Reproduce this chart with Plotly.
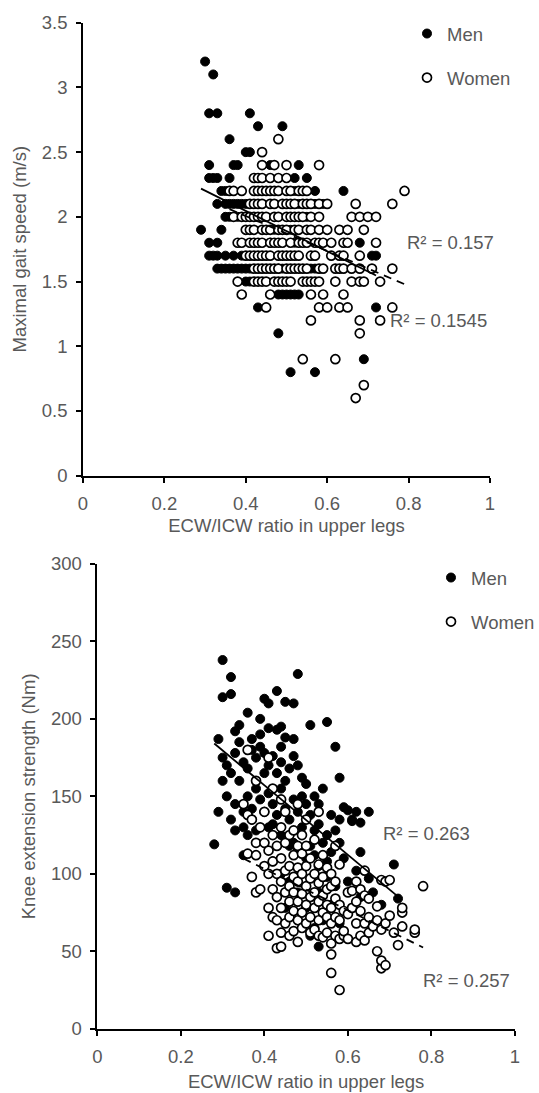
import plotly.graph_objects as go

FONT = "Liberation Sans, Arial, sans-serif"
GREY = "#595959"
FS = 18.5

# ---------------- Top chart: maximal gait speed ----------------
men_speed_pts = [
    (0.30, 3.2), (0.32, 3.1), (0.31, 2.8), (0.33, 2.8), (0.41, 2.8), (0.43, 2.7), (0.49, 2.7),
    (0.36, 2.6), (0.40, 2.5), (0.41, 2.5),
    (0.31, 2.4), (0.37, 2.4), (0.38, 2.4), (0.46, 2.4), (0.53, 2.4),
    (0.31, 2.3), (0.32, 2.3), (0.33, 2.3), (0.36, 2.3), (0.52, 2.3), (0.55, 2.3),
    (0.34, 2.2), (0.35, 2.2), (0.52, 2.2), (0.57, 2.2), (0.64, 2.2),
    (0.33, 2.1), (0.35, 2.1), (0.36, 2.1), (0.37, 2.1), (0.38, 2.1), (0.39, 2.1), (0.40, 2.1),
    (0.53, 2.1), (0.57, 2.1), (0.59, 2.1),
    (0.35, 2.0), (0.36, 2.0), (0.38, 2.0), (0.55, 2.0),
    (0.29, 1.9), (0.34, 1.9), (0.47, 1.9), (0.51, 1.9),
    (0.31, 1.8), (0.33, 1.8), (0.46, 1.8), (0.52, 1.8), (0.68, 1.8),
    (0.31, 1.7), (0.32, 1.7), (0.33, 1.7), (0.35, 1.7), (0.37, 1.7), (0.39, 1.7), (0.71, 1.7), (0.72, 1.7),
    (0.33, 1.6), (0.34, 1.6), (0.35, 1.6), (0.36, 1.6), (0.37, 1.6), (0.38, 1.6), (0.39, 1.6),
    (0.40, 1.6), (0.41, 1.6), (0.48, 1.6), (0.49, 1.6), (0.56, 1.6), (0.57, 1.6),
    (0.40, 1.5), (0.41, 1.5),
    (0.48, 1.4), (0.49, 1.4), (0.50, 1.4), (0.51, 1.4), (0.52, 1.4), (0.53, 1.4),
    (0.43, 1.3), (0.72, 1.3), (0.48, 1.1), (0.69, 0.9), (0.51, 0.8), (0.57, 0.8),
]

women_speed_pts = [
    (0.48, 2.6), (0.44, 2.5),
    (0.44, 2.4), (0.47, 2.4), (0.50, 2.4), (0.58, 2.4),
    (0.42, 2.3), (0.43, 2.3), (0.44, 2.3), (0.46, 2.3), (0.48, 2.3), (0.50, 2.3),
    (0.36, 2.2), (0.37, 2.2), (0.39, 2.2), (0.42, 2.2), (0.43, 2.2), (0.44, 2.2), (0.45, 2.2),
    (0.46, 2.2), (0.47, 2.2), (0.48, 2.2), (0.50, 2.2), (0.51, 2.2), (0.53, 2.2), (0.54, 2.2),
    (0.55, 2.2), (0.79, 2.2),
    (0.41, 2.1), (0.42, 2.1), (0.43, 2.1), (0.44, 2.1), (0.46, 2.1), (0.47, 2.1), (0.49, 2.1),
    (0.50, 2.1), (0.51, 2.1), (0.52, 2.1), (0.54, 2.1), (0.55, 2.1), (0.56, 2.1), (0.58, 2.1),
    (0.60, 2.1), (0.67, 2.1), (0.76, 2.1),
    (0.37, 2.0), (0.39, 2.0), (0.40, 2.0), (0.41, 2.0), (0.42, 2.0), (0.43, 2.0), (0.44, 2.0),
    (0.45, 2.0), (0.47, 2.0), (0.48, 2.0), (0.50, 2.0), (0.51, 2.0), (0.52, 2.0), (0.53, 2.0),
    (0.54, 2.0), (0.56, 2.0), (0.58, 2.0), (0.66, 2.0), (0.68, 2.0), (0.70, 2.0), (0.72, 2.0),
    (0.40, 1.9), (0.41, 1.9), (0.42, 1.9), (0.44, 1.9), (0.45, 1.9), (0.46, 1.9), (0.48, 1.9),
    (0.49, 1.9), (0.50, 1.9), (0.52, 1.9), (0.53, 1.9), (0.55, 1.9), (0.56, 1.9), (0.58, 1.9),
    (0.60, 1.9), (0.63, 1.9), (0.65, 1.9), (0.69, 1.9),
    (0.38, 1.8), (0.39, 1.8), (0.41, 1.8), (0.42, 1.8), (0.43, 1.8), (0.44, 1.8), (0.46, 1.8),
    (0.47, 1.8), (0.48, 1.8), (0.49, 1.8), (0.51, 1.8), (0.53, 1.8), (0.54, 1.8), (0.55, 1.8),
    (0.57, 1.8), (0.58, 1.8), (0.59, 1.8), (0.61, 1.8), (0.64, 1.8), (0.65, 1.8), (0.72, 1.8),
    (0.40, 1.7), (0.41, 1.7), (0.42, 1.7), (0.43, 1.7), (0.44, 1.7), (0.45, 1.7), (0.46, 1.7),
    (0.48, 1.7), (0.49, 1.7), (0.50, 1.7), (0.51, 1.7), (0.52, 1.7), (0.53, 1.7), (0.56, 1.7),
    (0.57, 1.7), (0.61, 1.7), (0.63, 1.7), (0.64, 1.7), (0.68, 1.7),
    (0.42, 1.6), (0.43, 1.6), (0.44, 1.6), (0.45, 1.6), (0.46, 1.6), (0.47, 1.6), (0.48, 1.6),
    (0.50, 1.6), (0.51, 1.6), (0.52, 1.6), (0.53, 1.6), (0.54, 1.6), (0.55, 1.6), (0.58, 1.6),
    (0.59, 1.6), (0.62, 1.6), (0.63, 1.6), (0.64, 1.6), (0.66, 1.6), (0.68, 1.6), (0.71, 1.6),
    (0.76, 1.6),
    (0.38, 1.5), (0.42, 1.5), (0.43, 1.5), (0.44, 1.5), (0.45, 1.5), (0.47, 1.5), (0.48, 1.5),
    (0.49, 1.5), (0.50, 1.5), (0.51, 1.5), (0.54, 1.5), (0.55, 1.5), (0.56, 1.5), (0.57, 1.5),
    (0.58, 1.5), (0.62, 1.5), (0.66, 1.5), (0.68, 1.5), (0.69, 1.5), (0.73, 1.5),
    (0.39, 1.4), (0.46, 1.4), (0.56, 1.4), (0.59, 1.4), (0.64, 1.4),
    (0.45, 1.3), (0.58, 1.3), (0.60, 1.3), (0.63, 1.3), (0.65, 1.3), (0.76, 1.3),
    (0.56, 1.2), (0.68, 1.2), (0.73, 1.2), (0.68, 1.1),
    (0.54, 0.9), (0.62, 0.9), (0.69, 0.7), (0.67, 0.6),
]

# trendline coefficients: [intercept, slope]
men_speed_fit = [2.67, -1.56]
women_speed_fit = [2.546, -1.35]
speed_r2_text = ["R² = 0.157", "R² = 0.1545"]
speed_r2_pos = [(0.79, 1.80), (0.75, 1.20)]

# ---------------- Bottom chart: knee extension strength ----------------
men_knee_pts = [
    (0.30, 238), (0.32, 227), (0.30, 214), (0.32, 216), (0.48, 229), (0.40, 213), (0.41, 210),
    (0.45, 211), (0.47, 210), (0.43, 218), (0.36, 204), (0.51, 196), (0.55, 198), (0.34, 196),
    (0.33, 192), (0.29, 187), (0.37, 187), (0.39, 190), (0.41, 194), (0.43, 193), (0.44, 195),
    (0.45, 188), (0.47, 187), (0.57, 182), (0.58, 162), (0.59, 143), (0.60, 141), (0.65, 140),
    (0.61, 135), (0.63, 133), (0.28, 119), (0.29, 140), (0.31, 91), (0.33, 88), (0.71, 106),
    (0.72, 84), (0.63, 114), (0.62, 140), (0.61, 134), (0.58, 135), (0.53, 53), (0.51, 60),
    (0.65, 97), (0.62, 102), (0.56, 114), (0.55, 108),
    (0.30, 175), (0.31, 170), (0.32, 165), (0.33, 178), (0.34, 160), (0.35, 172), (0.36, 168),
    (0.37, 180), (0.38, 175), (0.39, 182), (0.40, 178), (0.41, 170), (0.42, 176), (0.43, 165),
    (0.44, 172), (0.45, 160), (0.46, 168), (0.47, 176), (0.48, 170), (0.49, 162), (0.50, 158),
    (0.52, 150), (0.53, 145), (0.54, 155), (0.30, 160), (0.31, 150), (0.33, 145), (0.35, 140),
    (0.36, 150), (0.37, 142), (0.38, 155), (0.39, 148), (0.40, 140), (0.41, 152), (0.42, 145),
    (0.43, 138), (0.44, 155), (0.45, 142), (0.46, 135), (0.47, 148), (0.48, 140), (0.49, 130),
    (0.50, 145), (0.51, 138), (0.52, 128), (0.53, 132), (0.54, 120), (0.55, 125), (0.56, 138),
    (0.57, 128), (0.58, 120), (0.35, 130), (0.36, 125), (0.37, 135), (0.38, 128), (0.40, 120),
    (0.42, 132), (0.44, 125), (0.46, 118), (0.48, 115), (0.50, 110), (0.52, 112), (0.35, 112),
    (0.33, 128), (0.32, 135), (0.34, 185), (0.39, 200), (0.40, 165), (0.44, 182), (0.38, 160),
    (0.41, 130), (0.49, 150), (0.47, 120), (0.51, 118), (0.53, 105), (0.55, 98), (0.57, 92),
    (0.60, 95), (0.59, 110), (0.66, 88), (0.68, 80), (0.63, 85), (0.60, 75), (0.56, 80),
    (0.54, 70), (0.52, 65), (0.50, 78), (0.48, 88), (0.46, 95), (0.44, 100), (0.42, 108),
    (0.45, 78), (0.53, 88), (0.58, 68),
]

women_knee_pts = [
    (0.35, 145), (0.36, 138), (0.37, 135), (0.36, 113), (0.37, 98), (0.38, 112), (0.38, 88),
    (0.39, 90), (0.38, 120), (0.36, 180), (0.41, 175), (0.38, 160), (0.42, 155), (0.44, 148),
    (0.48, 145), (0.39, 130), (0.40, 120), (0.40, 105), (0.41, 115), (0.41, 100), (0.41, 78),
    (0.41, 60), (0.42, 90), (0.42, 72), (0.42, 108), (0.40, 140), (0.42, 125),
    (0.43, 52), (0.43, 70), (0.43, 85), (0.43, 100), (0.43, 118), (0.44, 53), (0.44, 62),
    (0.44, 78), (0.44, 95), (0.44, 110), (0.44, 130), (0.45, 68), (0.45, 88), (0.45, 102),
    (0.45, 120), (0.45, 140),
    (0.46, 60), (0.46, 72), (0.46, 82), (0.46, 92), (0.46, 105), (0.46, 125), (0.47, 63),
    (0.47, 76), (0.47, 88), (0.47, 98), (0.47, 112), (0.47, 128), (0.48, 56), (0.48, 70),
    (0.48, 82), (0.48, 95), (0.48, 104), (0.48, 118),
    (0.49, 65), (0.49, 75), (0.49, 87), (0.49, 100), (0.49, 113), (0.49, 125), (0.50, 68),
    (0.50, 80), (0.50, 92), (0.50, 105), (0.50, 118), (0.50, 135), (0.51, 62), (0.51, 72),
    (0.51, 85), (0.51, 97), (0.51, 110),
    (0.52, 64), (0.52, 78), (0.52, 88), (0.52, 100), (0.52, 122), (0.53, 60), (0.53, 70),
    (0.53, 82), (0.53, 94), (0.53, 106), (0.53, 140), (0.54, 59), (0.54, 75), (0.54, 86),
    (0.54, 98), (0.54, 112),
    (0.55, 62), (0.55, 72), (0.55, 80), (0.55, 90), (0.55, 104), (0.56, 36), (0.56, 48),
    (0.56, 55), (0.56, 68), (0.56, 78), (0.56, 92), (0.56, 100), (0.57, 60), (0.57, 72),
    (0.57, 84), (0.57, 95), (0.57, 118),
    (0.58, 25), (0.58, 58), (0.58, 70), (0.58, 80), (0.58, 106), (0.59, 60), (0.59, 63),
    (0.59, 76), (0.60, 58), (0.60, 74), (0.60, 88),
    (0.61, 78), (0.61, 89), (0.62, 56), (0.62, 68), (0.62, 82), (0.62, 95), (0.63, 60),
    (0.63, 76), (0.63, 90),
    (0.64, 57), (0.64, 68), (0.64, 86), (0.64, 102), (0.65, 62), (0.65, 72), (0.65, 84),
    (0.66, 66),
    (0.67, 50), (0.67, 70), (0.67, 79), (0.68, 39), (0.68, 44), (0.68, 64), (0.68, 96),
    (0.69, 41), (0.69, 68), (0.69, 95), (0.70, 73), (0.70, 96),
    (0.71, 62), (0.72, 54), (0.73, 66), (0.73, 75), (0.73, 78), (0.76, 62), (0.76, 64),
    (0.78, 92),
]

men_knee_fit = [247.0, -224.6]
women_knee_fit = [156.6, -133.6]
knee_r2_text = ["R² = 0.263", "R² = 0.257"]
knee_r2_pos = [(0.68, 126), (0.774, 31)]

x_title = "ECW/ICW ratio in upper legs"
speed_title = "Maximal gait speed (m/s)"
knee_title = "Knee extension strength (Nm)"
group_names = ["Men", "Women"]


def unzip(pts):
    return [p[0] for p in pts], [p[1] for p in pts]


def fit_line(pts, coef):
    xs = [p[0] for p in pts]
    x0, x1 = min(xs), max(xs)
    return [x0, x1], [coef[0] + coef[1] * x0, coef[0] + coef[1] * x1]


fig = go.Figure()

men_marker = dict(symbol="circle", size=9, color="black", line=dict(color="black", width=1))
women_marker = dict(symbol="circle", size=9, color="white", line=dict(color="black", width=1.7))

panels = [
    ("x", "y", "legend", men_speed_pts, women_speed_pts, men_speed_fit, women_speed_fit,
     speed_r2_text, speed_r2_pos),
    ("x2", "y2", "legend2", men_knee_pts, women_knee_pts, men_knee_fit, women_knee_fit,
     knee_r2_text, knee_r2_pos),
]

for xa, ya, lg, mpts, wpts, mfit, wfit, r2t, r2p in panels:
    mx, my = unzip(mpts)
    wx, wy = unzip(wpts)
    fig.add_trace(go.Scatter(x=mx, y=my, mode="markers", name=group_names[0], marker=men_marker,
                             xaxis=xa, yaxis=ya, legend=lg, legendgroup=lg + "m", cliponaxis=False))
    fig.add_trace(go.Scatter(x=wx, y=wy, mode="markers", name=group_names[1], marker=women_marker,
                             xaxis=xa, yaxis=ya, legend=lg, legendgroup=lg + "w", cliponaxis=False))
    lx, ly = fit_line(mpts, mfit)
    fig.add_trace(go.Scatter(x=lx, y=ly, mode="lines", line=dict(color="black", width=1.8),
                             xaxis=xa, yaxis=ya, showlegend=False, hoverinfo="skip"))
    lx, ly = fit_line(wpts, wfit)
    fig.add_trace(go.Scatter(x=lx, y=ly, mode="lines",
                             line=dict(color="black", width=1.8, dash="8px,6px"),
                             xaxis=xa, yaxis=ya, showlegend=False, hoverinfo="skip"))
    for t, (px, py) in zip(r2t, r2p):
        fig.add_annotation(x=px, y=py, xref=xa, yref=ya, text=t, showarrow=False,
                           xanchor="left", yanchor="middle",
                           font=dict(family=FONT, size=FS, color=GREY))

W, H = 539, 1093


def axis_common():
    return dict(showline=True, linecolor="black", linewidth=1.7, ticks="outside", ticklen=5,
                tickwidth=1.7, tickcolor="black", showgrid=False, zeroline=False,
                automargin=False,
                tickfont=dict(family=FONT, size=FS, color=GREY), ticklabelstandoff=5)


def legend_box(x_px, y_px):
    return dict(x=x_px / W, y=1 - y_px / H, xanchor="left", yanchor="top",
                bgcolor="rgba(0,0,0,0)", font=dict(family=FONT, size=FS, color=GREY),
                traceorder="grouped", tracegroupgap=17)


fig.update_layout(
    width=W, height=H, margin=dict(l=0, r=0, t=0, b=0, autoexpand=False),
    paper_bgcolor="white", plot_bgcolor="white",
    font=dict(family=FONT, size=FS, color=GREY),
    xaxis=dict(**axis_common(), domain=[83 / W, 490 / W], range=[0, 1], dtick=0.2,
               anchor="y", tickformat="~g",
               title=dict(text=x_title, font=dict(family=FONT, size=FS, color=GREY), standoff=6)),
    yaxis=dict(**axis_common(), domain=[1 - 475.7 / H, 1 - 22.7 / H], range=[0, 3.5], dtick=0.5,
               anchor="x", tickformat="~g",
               title=dict(text=speed_title, font=dict(family=FONT, size=FS, color=GREY), standoff=10)),
    xaxis2=dict(**axis_common(), domain=[97.3 / W, 515 / W], range=[0, 1], dtick=0.2,
                anchor="y2", tickformat="~g",
                title=dict(text=x_title, font=dict(family=FONT, size=FS, color=GREY), standoff=9)),
    yaxis2=dict(**axis_common(), domain=[1 - 1028.7 / H, 1 - 564 / H], range=[0, 300], dtick=50,
                anchor="x2",
                title=dict(text=knee_title, font=dict(family=FONT, size=FS, color=GREY), standoff=10)),
    legend=legend_box(407, 15),
    legend2=legend_box(431, 559),
    showlegend=True,
)

fig.write_html("out.html", config={"displayModeBar": False},
               post_script="document.body.style.margin='0';")
